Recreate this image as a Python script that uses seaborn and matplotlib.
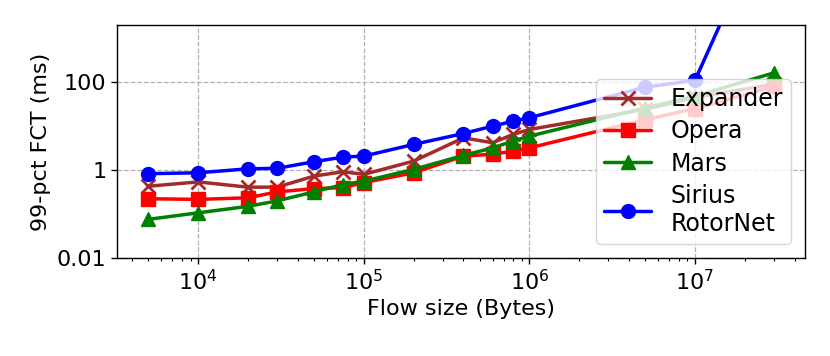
import numpy as np
import pandas as pd
import matplotlib
matplotlib.use("Agg")
import matplotlib.pyplot as plt
import seaborn as sns

flow_sizes = [5e3, 1e4, 2e4, 3e4, 5e4, 7.5e4, 1e5, 2e5, 4e5, 6e5, 8e5, 1e6, 5e6, 1e7, 3e7]
expander = [0.43, 0.54, 0.41, 0.41, 0.73, 0.92, 0.80, 1.6, 5.4, 4.2, 6.5, 8.4, 24, 45, 90]
opera = [0.224, 0.216, 0.235, 0.32, 0.38, 0.40, 0.52, 0.87, 2.08, 2.3, 2.7, 3.2, 14, 25, 80]
mars = [0.076, 0.107, 0.15, 0.20, 0.32, 0.47, 0.56, 1.04, 2.16, 3.2, 4.6, 5.9, 26, 48, 163]
sirius = [0.83, 0.87, 1.07, 1.1, 1.55, 1.98, 2.08, 3.84, 6.8, 10, 13, 15.5, 77, 110, 1.1e6]

series_names = ["Expander", "Opera", "Mars", "Sirius\nRotorNet"]
series_values = [expander, opera, mars, sirius]
colors = ["#a52a2a", "red", "green", "blue"]
markers = ["x", "s", "^", "o"]

frames = []
for name, vals in zip(series_names, series_values):
    frames.append(pd.DataFrame({"size": flow_sizes, "fct": vals, "series": name}))
df = pd.concat(frames, ignore_index=True)

sns.set_style("white")
plt.rcParams["font.family"] = ["DejaVu Sans"]
for k in ["text.color", "axes.labelcolor", "xtick.color", "ytick.color"]:
    plt.rcParams[k] = "black"

fig, ax = plt.subplots(figsize=(8.3, 3.56), dpi=100)
fig.subplots_adjust(left=0.141, right=0.970, top=0.930, bottom=0.275)

for name, c, m in zip(series_names, colors, markers):
    sub = df[df["series"] == name]
    sns.lineplot(data=sub, x="size", y="fct", ax=ax, color=c, marker=m,
                 markersize=10, linewidth=2.5, label=name,
                 markeredgecolor=c, markeredgewidth=2.0 if m == "x" else 1.0,
                 estimator=None, sort=False)

ax.set_xscale("log")
ax.set_yscale("log")
ax.set_ylim(0.01, 2000)
ax.set_yticks([0.01, 1, 100])
ax.set_yticklabels(["0.01", "1", "100"])
ax.yaxis.set_minor_locator(matplotlib.ticker.NullLocator())
ax.set_xlim(3.24e3, 4.62e7)

ax.grid(True, which="major", linestyle="--", color="#b0b0b0", linewidth=0.9)
ax.tick_params(axis="both", which="major", labelsize=16, length=4, width=1, direction="out",
               left=True, bottom=True, colors="black")
ax.tick_params(axis="x", which="minor", length=2.5, width=0.8, bottom=True, colors="black")
for sp in ax.spines.values():
    sp.set_color("black")
    sp.set_linewidth(1.0)

ax.set_xlabel("Flow size (Bytes)", fontsize=16, color="black")
ax.set_ylabel("99-pct FCT (ms)", fontsize=16, color="black")

leg = ax.legend(loc="lower right", fontsize=17, framealpha=0.8, borderaxespad=0.6,
                handlelength=2.0, labelspacing=0.35, borderpad=0.35)
for t in leg.get_texts():
    t.set_color("black")

fig.savefig("out.png", dpi=100)
